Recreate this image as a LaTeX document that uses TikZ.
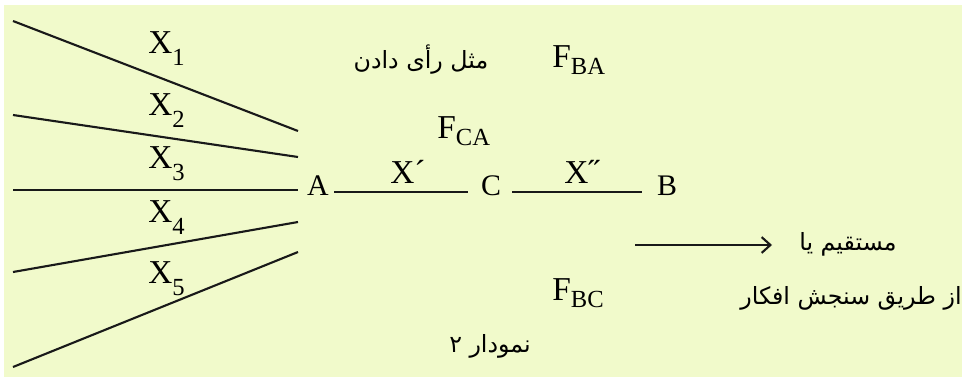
\documentclass[tikz,border=0pt]{standalone}
\usepackage{fontspec}
\setmainfont{Liberation Serif}
\newfontfamily\persfont[Script=Arabic]{DejaVu Sans}
\TeXXeTstate=1
\usetikzlibrary{arrows.meta, positioning}
\definecolor{paper}{RGB}{241,250,203}
\newcommand{\fsub}[1]{{\fontsize{19}{20}\selectfont F}\raisebox{-4pt}{\fontsize{14}{15}\selectfont #1}}
\newcommand{\xsub}[1]{X\raisebox{-7pt}{\fontsize{14}{15}\selectfont #1}}
\begin{document}
\begin{tikzpicture}[
  x=0.02cm, y=-0.02cm,
  link/.style={line width=1.2pt, black!90},
  vertex/.style={font=\fontsize{17}{18}\selectfont, inner sep=0pt, anchor=base},
  flabel/.style={inner sep=0pt, anchor=base west},
  xname/.style={font=\fontsize{19}{20}\selectfont, inner sep=0pt, anchor=base west},
  note/.style={font=\persfont\fontsize{13.5}{15}\selectfont, inner sep=0pt, anchor=base},
]
  \useasboundingbox (0,0) rectangle (962,379);
  \fill[paper] (4,5) rectangle (962,377);

  % ── fan of X lines ──
  \foreach \i/\ya/\yb/\yl in {1/21/131/53, 2/115/157/115, 3/190/190/168, 4/272/222/222, 5/367/252/283} {
    \coordinate (s\i) at (13,\ya);
    \coordinate (e\i) at (298,\yb);
    \draw[link] (s\i) -- (e\i);
    \node[xname] (x\i) at (148,\yl) {\xsub{\i}};
  }

  % ── chain A -- C -- B ──
  \node[vertex] (A) at (318,195) {A};
  \node[vertex] (C) at (491,195) {C};
  \node[vertex] (B) at (667,195) {B};
  \draw[link, shorten <=0.1cm, shorten >=0.26cm] ([yshift=1.5pt]A.base east) -- ([yshift=1.5pt]C.base west);
  \draw[link, shorten <=0.22cm, shorten >=0.3cm] ([yshift=1.5pt]C.base east) -- ([yshift=1.5pt]B.base west);
  \node[xname, anchor=base] (xac) at (408,183) {X´};
  \node[xname, anchor=base] (xcb) at (582,183) {X˝};

  % ── forces ──
  \node[flabel] (fba) at (552,67) {\fsub{BA}};
  \node[flabel] (fca) at (437,138) {\fsub{CA}};
  \node[flabel] (fbc) at (552,300) {\fsub{BC}};

  % ── notes ──
  \node[note] (opinion) at (421,68) {\beginR مثل رأی دادن\endR};
  \node[note] (direct) at (848,250) {\beginR مستقیم یا\endR};
  \node[note, anchor=base east] (survey) at (962,304) {\beginR از طریق سنجش افکار\endR};
  \node[note] (caption) at (490,352) {\beginR نمودار ۲\endR};

  % ── arrow ──
  \coordinate (arrS) at (635,245);
  \coordinate (arrE) at (772,245);
  \draw[link, -{Straight Barb[length=5pt, width=9pt]}] (arrS) -- (arrE);
\end{tikzpicture}
\end{document}
